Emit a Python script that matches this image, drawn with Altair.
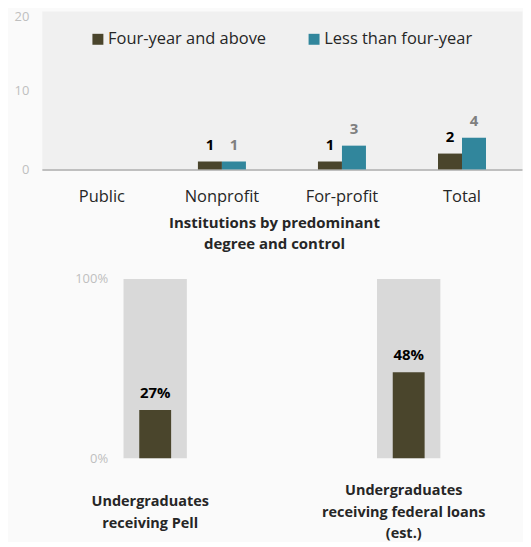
import altair as alt
import pandas as pd

# ---- data ----
categories = ["Public", "Nonprofit", "For-profit", "Total"]
series = ["Four-year and above", "Less than four-year"]
four_year_values = [0, 1, 1, 2]
less_than_values = [0, 1, 3, 4]

aid_keys = ["Pell", "Loans"]
aid_label_lines = [["Undergraduates", "receiving Pell"],
                   ["Undergraduates", "receiving federal loans", "(est.)"]]
aid_values = [0.27, 0.48]
aid_full = [1.0, 1.0]

rows = []
for c, a, b in zip(categories, four_year_values, less_than_values):
    rows.append({"category": c, "series": series[0], "value": a})
    rows.append({"category": c, "series": series[1], "value": b})
top_df = pd.DataFrame(rows)

aid_df = pd.DataFrame({"key": aid_keys, "value": aid_values, "full": aid_full})

DARK = "#4a452c"
TEAL = "#31869c"
FONT = "Open Sans"
TXT = "#262626"

# ---- top chart ----
x_top = alt.X(
    "category:N", sort=categories,
    scale=alt.Scale(paddingInner=0.6, paddingOuter=0.3),
    axis=alt.Axis(
        title=["Institutions by predominant", "degree and control"],
        labelAngle=0, ticks=False, domainColor="#bfbfbf", domainWidth=2,
        labelFontSize=16.5, labelColor=TXT, labelPadding=19, labelFont=FONT,
        titleFontSize=15, titleFontWeight="bold", titleColor=TXT,
        titlePadding=11, titleFont=FONT, titleLineHeight=21, titleX=233,
    ),
)
y_top = alt.Y(
    "value:Q",
    scale=alt.Scale(domain=[0, 20]),
    axis=alt.Axis(values=[0, 10, 20], grid=False, domain=False, ticks=False,
                  labelColor="#bfbfbf", labelFontSize=13, labelPadding=13,
                  labelFont=FONT, title=None,
                  labelBaseline={"condition": {"test": "datum.value === 20",
                                               "value": "top"},
                                 "value": "middle"}),
)
x_off = alt.XOffset("series:N", sort=series,
                    scale=alt.Scale(paddingInner=0, paddingOuter=0))

top_bars = alt.Chart(top_df).mark_bar().encode(
    x=x_top, y=y_top, xOffset=x_off,
    color=alt.Color(
        "series:N", sort=series,
        scale=alt.Scale(domain=series, range=[DARK, TEAL]),
        legend=alt.Legend(
            title=None, orient="none", legendX=48, legendY=20,
            direction="horizontal", symbolType="square", symbolSize=121,
            symbolStrokeWidth=0, labelFontSize=16.5, labelColor=TXT,
            labelFont=FONT, columnPadding=39, labelOffset=2,
        ),
    ),
)
top_text = alt.Chart(top_df).mark_text(
    dy=-12, baseline="alphabetic", fontWeight="bold", fontSize=15, font=FONT
).encode(
    x=alt.X("category:N", sort=categories),
    y=alt.Y("value:Q"),
    xOffset=alt.XOffset("series:N", sort=series),
    text=alt.Text("value:Q"),
    color=alt.condition(alt.datum.series == series[0],
                        alt.value("#000000"), alt.value("#7f7f7f")),
).transform_filter(alt.datum.value > 0)

top = alt.layer(top_bars, top_text).properties(
    width=482, height=159,
    view=alt.ViewBackground(fill="#f0f0f0", stroke="transparent"),
)

# ---- bottom chart ----
label_expr = " : ".join(
    [f"datum.value == '{k}' ? {lines!r}" for k, lines in zip(aid_keys, aid_label_lines)]
) + " : datum.value"

x_bot = alt.X(
    "key:N", sort=aid_keys,
    scale=alt.Scale(paddingInner=0.75, paddingOuter=0.322),
    axis=alt.Axis(title=None, labelExpr=label_expr, labelAngle=0, ticks=False,
                  domain=False, labelFontSize=14.5, labelFontWeight="bold",
                  labelColor=TXT, labelFont=FONT, labelBaseline="middle",
                  labelPadding={"condition": {"test": "datum.value === 'Loans'",
                                              "value": 32},
                                "value": 43},
                  labelOffset=-5, labelLineHeight=22),
)
y_bot = alt.Y(
    "full:Q", scale=alt.Scale(domain=[0, 1]),
    axis=alt.Axis(values=[0, 1], format=".0%", grid=False, domain=False,
                  ticks=False, labelColor="#bfbfbf", labelFontSize=13,
                  labelFont=FONT, offset=-70, labelPadding=4, title=None),
)

bg = alt.Chart(aid_df).mark_bar(color="#d9d9d9").encode(x=x_bot, y=y_bot)
fg = alt.Chart(aid_df).mark_bar(color=DARK, size=32).encode(
    x=alt.X("key:N", sort=aid_keys), y=alt.Y("value:Q"))
fg_text = alt.Chart(aid_df).mark_text(
    dy=-12, baseline="alphabetic", fontWeight="bold", fontSize=15,
    font=FONT, color="#000000",
).encode(x=alt.X("key:N", sort=aid_keys), y=alt.Y("value:Q"),
         text=alt.Text("value:Q", format=".0%"))

bottom = alt.layer(bg, fg, fg_text).properties(
    width=482, height=180,
    view=alt.ViewBackground(fill="transparent", stroke="transparent"),
)

chart = alt.vconcat(top, bottom, spacing=20).properties(
    background="#fafafa",
    padding={"left": 5, "top": 1, "right": 0, "bottom": 0},
).configure(font=FONT)

chart.save("out.html", embed_options={"renderer": "svg", "actions": False})
